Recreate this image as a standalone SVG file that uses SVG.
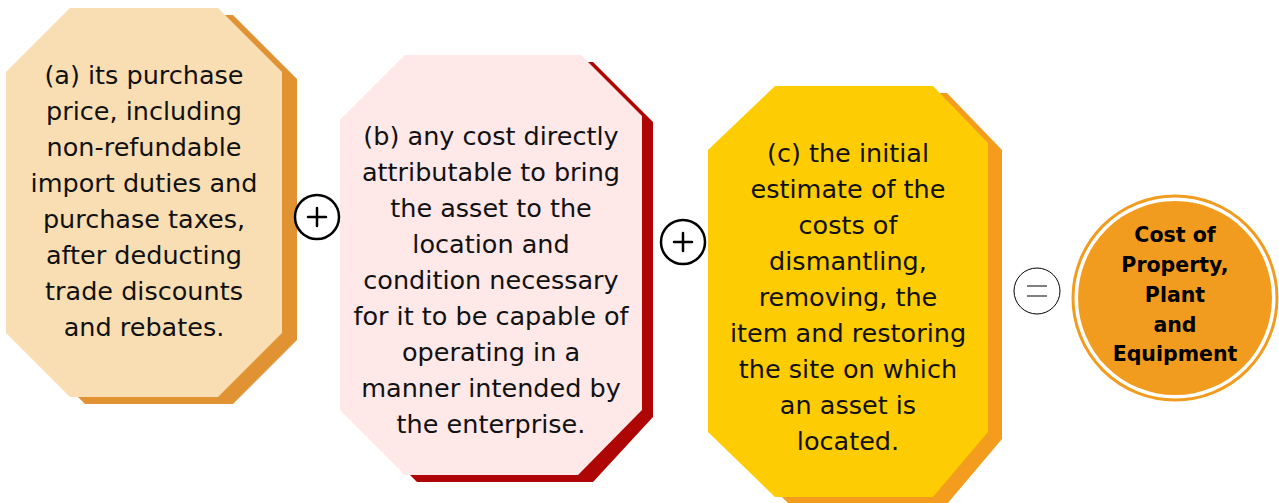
<svg xmlns="http://www.w3.org/2000/svg" width="1279" height="503" viewBox="0 0 1279 503">
<style>
.t{font-family:"DejaVu Sans","Open Sans",sans-serif;font-size:25.5px;fill:#111;text-anchor:middle}
.b{font-family:"DejaVu Sans","Open Sans",sans-serif;font-size:20.5px;font-weight:bold;fill:#000;text-anchor:middle}
.op{fill:#fff;stroke:#000;stroke-width:2.5}
.opl{fill:none;stroke:#000;stroke-width:2.5;stroke-linecap:round}
</style>
<rect width="1279" height="503" fill="#fff"/>
<g id="nodeA">
<polygon points="85,15 233,15 297,79 297,340 233,404 85,404 21,340 21,79" fill="#E19333"/>
<polygon points="70,8 218,8 282,72 282,333 218,397 70,397 6,333 6,72" fill="#F9DEB3"/>
<text class="t" x="144" y="84">(a) its purchase</text>
<text class="t" x="144" y="120">price, including</text>
<text class="t" x="144" y="156">non-refundable</text>
<text class="t" x="144" y="192">import duties and</text>
<text class="t" x="144" y="228">purchase taxes,</text>
<text class="t" x="144" y="264">after deducting</text>
<text class="t" x="144" y="300">trade discounts</text>
<text class="t" x="144" y="336">and rebates.</text>
</g>
<g id="nodeB">
<polygon points="417,62 593,62 653,122 653,417 593,482 417,482 352,417 352,127" fill="#AE0505"/>
<polygon points="405,55 581,55 642,116 642,410 578,475 405,475 340,410 340,120" fill="#FEE8E8"/>
<text class="t" x="491" y="145">(b) any cost directly</text>
<text class="t" x="491" y="181">attributable to bring</text>
<text class="t" x="491" y="217">the asset to the</text>
<text class="t" x="491" y="253">location and</text>
<text class="t" x="491" y="289">condition necessary</text>
<text class="t" x="491" y="325">for it to be capable of</text>
<text class="t" x="491" y="361">operating in a</text>
<text class="t" x="491" y="397">manner intended by</text>
<text class="t" x="491" y="433">the enterprise.</text>
</g>
<g id="nodeC">
<polygon points="789,93 947,93 1002,150 1002,439 947,504 789,504 722,439 722,157" fill="#F39C1E"/>
<polygon points="775,86 933,86 988,143 988,432 933,497 775,497 708,432 708,150" fill="#FDCC02"/>
<text class="t" x="848" y="162">(c) the initial</text>
<text class="t" x="848" y="198">estimate of the</text>
<text class="t" x="848" y="234">costs of</text>
<text class="t" x="848" y="270">dismantling,</text>
<text class="t" x="848" y="306">removing, the</text>
<text class="t" x="848" y="342">item and restoring</text>
<text class="t" x="848" y="378">the site on which</text>
<text class="t" x="848" y="414">an asset is</text>
<text class="t" x="848" y="450">located.</text>
</g>
<g id="connectors">
<g id="plus1">
<circle class="op" cx="317" cy="217" r="22"/>
<path class="opl" d="M308 217H326M317 208V226"/>
</g>
<g id="plus2">
<circle class="op" cx="683" cy="242" r="22"/>
<path class="opl" d="M674 242H692M683 233V251"/>
</g>
<g id="equals">
<circle cx="1037" cy="291" r="23" fill="#fff" stroke="#000" stroke-width="1"/>
<path d="M1027 286H1047M1027 296H1047" stroke="#000" stroke-width="1"/>
</g>
</g>
<g id="result">
<circle cx="1175" cy="298" r="102" fill="#fff" stroke="#F29C1F" stroke-width="3"/>
<circle cx="1175" cy="298" r="97" fill="#F29C1F"/>
<text class="b" x="1175" y="242">Cost of</text>
<text class="b" x="1175" y="272">Property,</text>
<text class="b" x="1175" y="302">Plant</text>
<text class="b" x="1175" y="332">and</text>
<text class="b" x="1175" y="361">Equipment</text>
</g>
</svg>
